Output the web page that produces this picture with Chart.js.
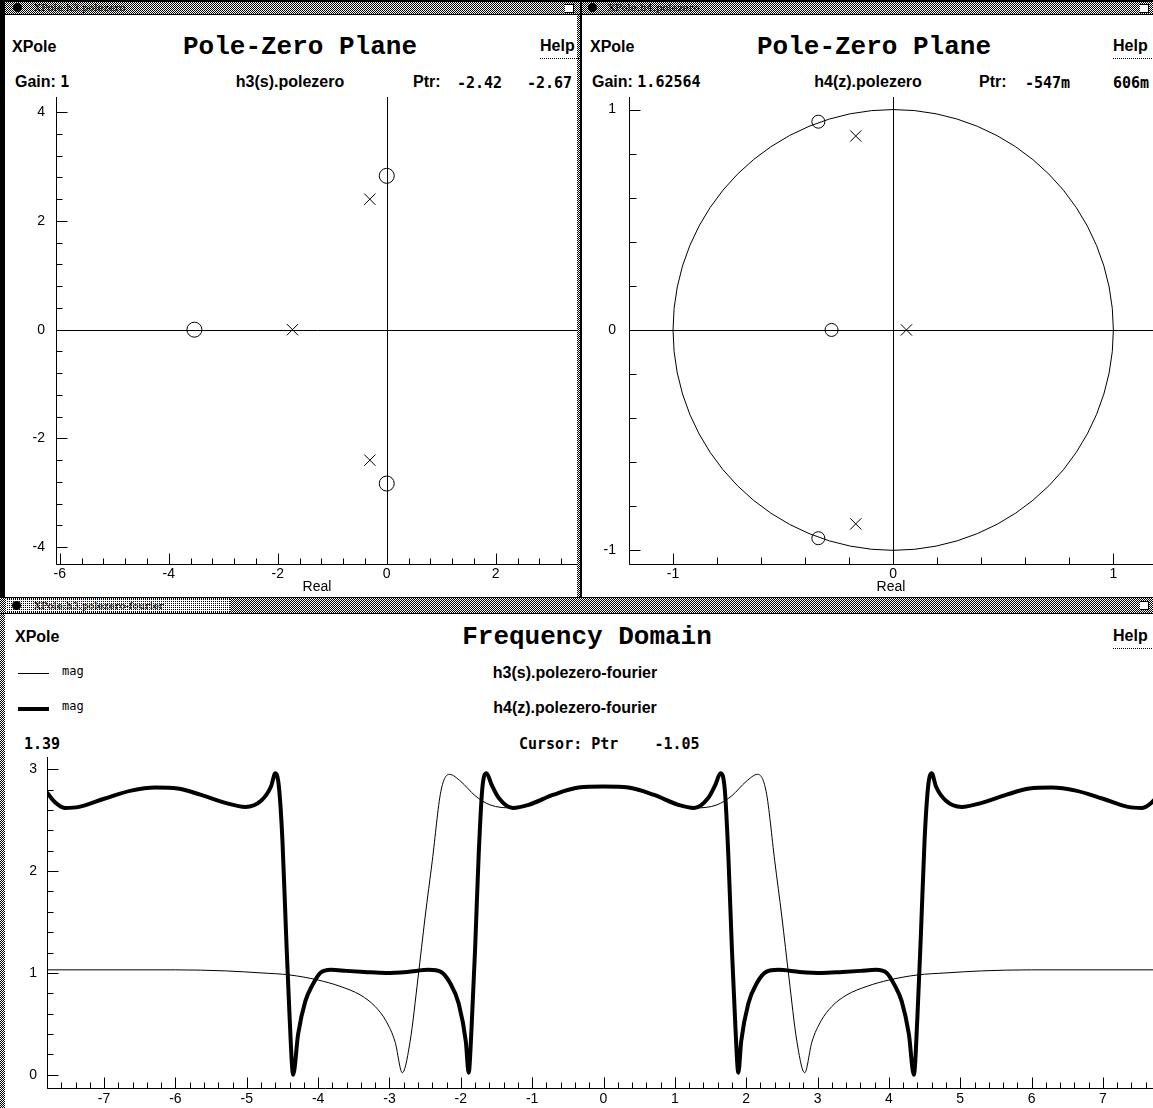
<!DOCTYPE html>
<html>
<head>
<meta charset="utf-8">
<title>XPole</title>
<script src="https://cdn.jsdelivr.net/npm/chart.js@4.4.1/dist/chart.umd.min.js"></script>
<style>
  html, body { margin: 0; padding: 0; background: #fff; }
  body { width: 1153px; height: 1108px; position: relative; overflow: hidden; color: #000;
         font-family: 'Liberation Sans', Arial, sans-serif; }
  .abs { position: absolute; white-space: pre; }
  .hdr { font: bold 16px 'Liberation Sans', Arial, sans-serif; line-height: 18px; }
  .big { font: bold 26px 'Liberation Mono', 'Courier New', monospace; line-height: 30px; text-align: center; }
  .mono { font: bold 15px 'DejaVu Sans Mono', monospace; line-height: 18px; }
  .small { font: 12px 'DejaVu Sans Mono', monospace; line-height: 14px; }
  .center { text-align: center; }
  .help { border-bottom: 1px dotted #000; padding: 0 4px 3px 0; }
  .stipple { position: absolute; background-image: repeating-conic-gradient(#000 0 25%, #fff 0 50%); background-size: 2px 2px; }
  .light { position: absolute; background-image: conic-gradient(#000 0 25%, #fff 0); background-size: 2px 2px; }
  .black { position: absolute; background: #000; }
  .dot { position: absolute; width: 9px; height: 9px; border-radius: 50%; background: #000; }
  .wtitle { position: absolute; font: 10px 'DejaVu Serif', serif; line-height: 12px; color: #000; }
  .icon { position: absolute; width: 8px; height: 7px; border: 1px solid #000; border-left: none; background: #fff; }
  canvas { position: absolute; }
</style>
</head>
<body>

<!-- window frames and title bars -->
<div class="black" style="left:0;top:0;width:1153px;height:2px"></div>
<div class="stipple" style="left:5px;top:2px;width:575px;height:12px"></div>
<div class="stipple" style="left:582px;top:2px;width:571px;height:12px"></div>
<div class="black" style="left:0;top:14px;width:1153px;height:1px"></div>
<div class="black" style="left:0;top:0;width:5px;height:597px"></div>
<div class="stipple" style="left:577px;top:15px;width:3px;height:582px"></div>
<div class="black" style="left:580px;top:0;width:2px;height:597px"></div>
<div class="dot" style="left:13px;top:3px"></div>
<div class="wtitle" style="left:34px;top:2px">XPole:h3.polezero</div>
<div class="icon" style="left:565px;top:4px"></div>
<div class="dot" style="left:588px;top:3px"></div>
<div class="wtitle" style="left:608px;top:2px">XPole:h4.polezero</div>
<div class="icon" style="left:1140px;top:4px"></div>

<div class="black" style="left:0;top:597px;width:1153px;height:1px"></div>
<div class="stipple" style="left:0;top:598px;width:1153px;height:15px"></div>
<div class="light" style="left:6px;top:599px;width:224px;height:13px"></div>
<div class="dot" style="left:12px;top:601px"></div>
<div class="wtitle" style="left:34px;top:600px">XPole:h3.polezero-fourier</div>
<div class="icon" style="left:1140px;top:601px"></div>
<div class="black" style="left:0;top:613px;width:1153px;height:1px"></div>
<div class="stipple" style="left:0;top:614px;width:5px;height:494px"></div>

<!-- h3(s) pole-zero header -->
<div class="abs hdr" style="left:12px;top:38px">XPole</div>
<div class="abs big" style="left:100px;top:32px;width:400px">Pole-Zero Plane</div>
<div class="abs hdr help" style="left:540px;top:37px">Help</div>
<div class="abs hdr" style="left:15px;top:73px">Gain: <span class="mono">1</span></div>
<div class="abs hdr center" style="left:190px;top:73px;width:200px">h3(s).polezero</div>
<div class="abs hdr" style="left:413px;top:73px">Ptr:</div>
<div class="abs mono" style="left:457px;top:74px">-2.42</div>
<div class="abs mono" style="left:527px;top:74px">-2.67</div>

<!-- h4(z) pole-zero header -->
<div class="abs hdr" style="left:590px;top:38px">XPole</div>
<div class="abs big" style="left:674px;top:32px;width:400px">Pole-Zero Plane</div>
<div class="abs hdr help" style="left:1113px;top:37px">Help</div>
<div class="abs hdr" style="left:592px;top:73px">Gain: <span class="mono">1.62564</span></div>
<div class="abs hdr center" style="left:768px;top:73px;width:200px">h4(z).polezero</div>
<div class="abs hdr" style="left:979px;top:73px">Ptr:</div>
<div class="abs mono" style="left:1025px;top:74px">-547m</div>
<div class="abs mono" style="left:1113px;top:74px">606m</div>

<!-- frequency domain header + legend -->
<div class="abs hdr" style="left:15px;top:628px">XPole</div>
<div class="abs big" style="left:387px;top:622px;width:400px">Frequency Domain</div>
<div class="abs hdr help" style="left:1113px;top:627px">Help</div>
<div class="black" style="left:18px;top:673px;width:31px;height:1px"></div>
<div class="abs small" style="left:62px;top:664px">mag</div>
<div class="abs hdr center" style="left:425px;top:664px;width:300px">h3(s).polezero-fourier</div>
<div class="black" style="left:18px;top:707px;width:31px;height:4px"></div>
<div class="abs small" style="left:62px;top:699px">mag</div>
<div class="abs hdr center" style="left:425px;top:699px;width:300px">h4(z).polezero-fourier</div>
<div class="abs mono" style="left:24px;top:735px">1.39</div>
<div class="abs mono" style="left:519px;top:735px">Cursor: Ptr    -1.05</div>

<canvas id="h3PlaneChart" width="573" height="502" style="left:5px;top:95px"></canvas>
<canvas id="h4PlaneChart" width="571" height="502" style="left:582px;top:95px"></canvas>
<canvas id="freqChart" width="1155" height="356" style="left:5px;top:752px"></canvas>

<script>
// --- data ---

// h3(s) : s-plane poles and zeros
const h3ZeroRe = [-3.53, 0, 0];
const h3ZeroIm = [0, 2.83, -2.83];
const h3PoleRe = [-1.73, -0.31, -0.31];
const h3PoleIm = [0, 2.4, -2.4];
const h3TicksX = [-6, -4, -2, 0, 2];
const h3TicksY = [-4, -2, 0, 2, 4];

// h4(z) : z-plane poles and zeros
const h4ZeroRe = [-0.34, -0.28, -0.34];
const h4ZeroIm = [0.945, 0, -0.945];
const h4PoleRe = [-0.17, 0.06, -0.17];
const h4PoleIm = [0.88, 0, -0.88];
const h4TicksX = [-1, 0, 1];
const h4TicksY = [-1, 0, 1];
const UNIT_CIRCLE_R = 1;

// frequency responses (magnitude vs frequency)
const h3Freq = [-7.80, -6.00, -5.30, -4.80, -4.40, -4.00, -3.70, -3.40, -3.20, -3.05, -2.92, -2.82,
                -2.71, -2.60, -2.50, -2.40, -2.28, -2.16, -2.00, -1.80, -1.59, -1.28, -1.05, -0.70,
                -0.35, 0.00, 0.35, 0.70, 1.05, 1.28, 1.59, 1.80, 2.00, 2.16, 2.28, 2.40, 2.50, 2.60,
                2.71, 2.82, 2.92, 3.05, 3.20, 3.40, 3.70, 4.00, 4.40, 4.80, 5.30, 6.00, 7.80];
const h3Mag  = [1.03, 1.03, 1.02, 1.00, 0.98, 0.93, 0.87, 0.78, 0.67, 0.53, 0.32, 0.02,
                0.33, 0.95, 1.55, 2.10, 2.78, 2.95, 2.88, 2.74, 2.65, 2.62, 2.64, 2.74,
                2.81, 2.83, 2.81, 2.74, 2.64, 2.62, 2.65, 2.74, 2.88, 2.95, 2.78, 2.10, 1.55, 0.95,
                0.33, 0.02, 0.32, 0.53, 0.67, 0.78, 0.87, 0.93, 0.98, 1.00, 1.02, 1.03, 1.03];

const h4Freq = [-7.80, -7.68, -7.55, -7.35, -7.00, -6.62, -6.28, -5.97, -5.65, -5.30, -5.02, -4.80,
                -4.66, -4.60, -4.55, -4.50, -4.45, -4.40, -4.35, -4.28, -4.18, -4.08, -3.97, -3.82,
                -3.60, -3.35, -3.05, -2.75, -2.45, -2.28, -2.15, -2.03, -1.93, -1.89, -1.85, -1.80,
                -1.75, -1.70, -1.64, -1.57, -1.47, -1.27, -1.05, -0.70, -0.35, 0.00,
                0.35, 0.70, 1.05, 1.27, 1.47, 1.57, 1.64, 1.70, 1.75, 1.80, 1.85, 1.89, 1.93, 2.03,
                2.15, 2.28, 2.45, 2.75, 3.05, 3.35, 3.60, 3.82, 3.97, 4.08, 4.18, 4.28, 4.35, 4.40,
                4.45, 4.50, 4.55, 4.60, 4.66, 4.80, 5.02, 5.30, 5.65, 5.97, 6.28, 6.62, 7.00, 7.35,
                7.55, 7.68, 7.80];
const h4Mag  = [2.77, 2.67, 2.62, 2.63, 2.71, 2.79, 2.82, 2.81, 2.75, 2.67, 2.63, 2.69,
                2.83, 2.96, 2.83, 2.30, 1.40, 0.57, 0.00, 0.40, 0.72, 0.88, 1.00, 1.03,
                1.02, 1.01, 1.00, 1.01, 1.03, 1.01, 0.90, 0.70, 0.33, 0.02, 0.45, 1.23,
                2.15, 2.80, 2.96, 2.85, 2.72, 2.62, 2.65, 2.75, 2.82, 2.83,
                2.82, 2.75, 2.65, 2.62, 2.72, 2.85, 2.96, 2.80, 2.15, 1.23, 0.45, 0.02, 0.33, 0.70,
                0.90, 1.01, 1.03, 1.01, 1.00, 1.01, 1.02, 1.03, 1.00, 0.88, 0.72, 0.40, 0.00, 0.57,
                1.40, 2.30, 2.83, 2.96, 2.83, 2.69, 2.63, 2.67, 2.75, 2.81, 2.82, 2.79, 2.71, 2.63,
                2.62, 2.67, 2.77];
const freqTicksX = [-7, -6, -5, -4, -3, -2, -1, 0, 1, 2, 3, 4, 5, 6, 7];
const freqTicksY = [0, 1, 2, 3];

// --- shared look ---
Chart.defaults.font.family = "'Liberation Sans', Arial, sans-serif";
Chart.defaults.font.size = 14;
Chart.defaults.color = '#000';

const toPoints = (xs, ys) => xs.map((v, i) => ({ x: v, y: ys[i] }));

function stepsBetween(min, max, step) {
    const out = [];
    for (let i = Math.ceil(min / step - 1e-9); i * step <= max + 1e-9; i++) out.push(i * step);
    return out;
}
const onStep = (v, step) => Math.abs(v / step - Math.round(v / step)) < 1e-6;

// XPole style frame: left + bottom axis lines, ticks pointing inward,
// optional cross through the origin and optional unit circle
const xpoleFrame = {
    id: 'xpoleFrame',
    beforeDatasetsDraw(chart, args, opts) {
        const { ctx, chartArea: a, scales: { x, y } } = chart;
        const px = v => Math.round(x.getPixelForValue(v)) + 0.5;
        const py = v => Math.round(y.getPixelForValue(v)) + 0.5;
        const left = Math.round(a.left) + 0.5;
        const bottom = Math.round(a.bottom) + 0.5;
        ctx.save();
        ctx.strokeStyle = '#000';
        ctx.lineWidth = 1;
        ctx.beginPath();
        ctx.moveTo(left, a.top);
        ctx.lineTo(left, bottom);
        ctx.lineTo(a.right, bottom);
        stepsBetween(x.min, x.max, opts.xMinor).forEach(v => {
            const len = onStep(v, opts.xMajor) ? opts.majorLen : opts.minorLen;
            ctx.moveTo(px(v), bottom);
            ctx.lineTo(px(v), bottom - len);
        });
        stepsBetween(y.min, y.max, opts.yMinor).forEach(v => {
            const len = onStep(v, opts.yMajor) ? opts.majorLen : opts.minorLen;
            ctx.moveTo(left, py(v));
            ctx.lineTo(left + len, py(v));
        });
        if (opts.cross) {
            ctx.moveTo(px(0), a.top);
            ctx.lineTo(px(0), bottom);
            ctx.moveTo(left, py(0));
            ctx.lineTo(a.right, py(0));
        }
        ctx.stroke();
        if (opts.circle) {
            const cx = x.getPixelForValue(0), cy = y.getPixelForValue(0);
            ctx.beginPath();
            ctx.rect(a.left, a.top, a.right - a.left, a.bottom - a.top);
            ctx.clip();
            ctx.beginPath();
            ctx.ellipse(cx, cy, x.getPixelForValue(opts.circle) - cx, cy - y.getPixelForValue(opts.circle), 0, 0, Math.PI * 2);
            ctx.stroke();
        }
        ctx.restore();
    }
};

// fixed-size axis, no label padding so the plot area lands where the reference has it
function axis(min, max, ticks, size, pad, extra) {
    return Object.assign({
        type: 'linear',
        min: min,
        max: max,
        grid: { display: false, drawTicks: false },
        border: { display: false },
        afterBuildTicks: s => { s.ticks = ticks.map(v => ({ value: v })); },
        afterFit: s => {
            if (s.isHorizontal()) s.height = size; else s.width = size;
            s.paddingTop = s.paddingBottom = s.paddingLeft = s.paddingRight = 0;
        },
        ticks: { color: '#000', autoSkip: false, maxRotation: 0, padding: pad, callback: v => String(v) }
    }, extra || {});
}

function planeChart(id, zeroRe, zeroIm, poleRe, poleIm, xr, yr, xt, yt, yWidth, yPad, frame, markR) {
    return new Chart(document.getElementById(id), {
        type: 'scatter',
        data: {
            datasets: [{
                label: 'zeros',
                data: toPoints(zeroRe, zeroIm),
                pointStyle: 'circle',
                pointRadius: markR,
                borderColor: '#000',
                backgroundColor: 'rgba(0,0,0,0)',
                borderWidth: 1
            }, {
                label: 'poles',
                data: toPoints(poleRe, poleIm),
                pointStyle: 'crossRot',
                pointRadius: 8,
                borderColor: '#000',
                borderWidth: 1
            }]
        },
        options: {
            responsive: false,
            animation: false,
            events: [],
            layout: { autoPadding: false, padding: { top: 2, right: 0, left: 0, bottom: 0 } },
            plugins: { legend: { display: false }, tooltip: { enabled: false }, xpoleFrame: frame },
            scales: {
                x: axis(xr[0], xr[1], xt, 33, 2, {
                    title: { display: true, text: 'Real', color: '#000', font: { size: 14 }, padding: { top: 0, bottom: 1 } }
                }),
                y: axis(yr[0], yr[1], yt, yWidth, yPad)
            }
        },
        plugins: [xpoleFrame]
    });
}

planeChart('h3PlaneChart', h3ZeroRe, h3ZeroIm, h3PoleRe, h3PoleIm,
    [-6.07, 3.51], [-4.31, 4.28], h3TicksX, h3TicksY, 51, 11,
    { xMinor: 0.4, xMajor: 2, yMinor: 0.4, yMajor: 2, majorLen: 11, minorLen: 6, cross: true }, 7.5);

planeChart('h4PlaneChart', h4ZeroRe, h4ZeroIm, h4PoleRe, h4PoleIm,
    [-1.2, 1.18], [-1.062, 1.057], h4TicksX, h4TicksY, 47, 13,
    { xMinor: 0.2, xMajor: 1, yMinor: 0.2, yMajor: 1, majorLen: 11, minorLen: 7, cross: true, circle: UNIT_CIRCLE_R }, 6.5);

// --- frequency domain ---
new Chart(document.getElementById('freqChart'), {
    type: 'scatter',
    data: {
        datasets: [{
            label: 'h3(s).polezero-fourier',
            data: toPoints(h3Freq, h3Mag),
            showLine: true,
            pointRadius: 0,
            borderColor: '#000',
            borderWidth: 1,
            tension: 0.4,
            cubicInterpolationMode: 'monotone'
        }, {
            label: 'h4(z).polezero-fourier',
            data: toPoints(h4Freq, h4Mag),
            showLine: true,
            pointRadius: 0,
            borderColor: '#000',
            borderWidth: 4,
            borderJoinStyle: 'round',
            borderCapStyle: 'round',
            tension: 0.4,
            cubicInterpolationMode: 'monotone'
        }]
    },
    options: {
        responsive: false,
        animation: false,
        events: [],
        layout: { autoPadding: false, padding: { top: 5, right: 0, left: 0, bottom: 0 } },
        plugins: {
            legend: { display: false },
            tooltip: { enabled: false },
            xpoleFrame: { xMinor: 0.2, xMajor: 1, yMinor: 0.2, yMajor: 1, majorLen: 11, minorLen: 6 }
        },
        scales: {
            x: axis(-7.8, 7.8, freqTicksX, 20, 3),
            y: axis(-0.13, 3.12, freqTicksY, 42, 10)
        }
    },
    plugins: [xpoleFrame]
});
</script>
</body>
</html>
